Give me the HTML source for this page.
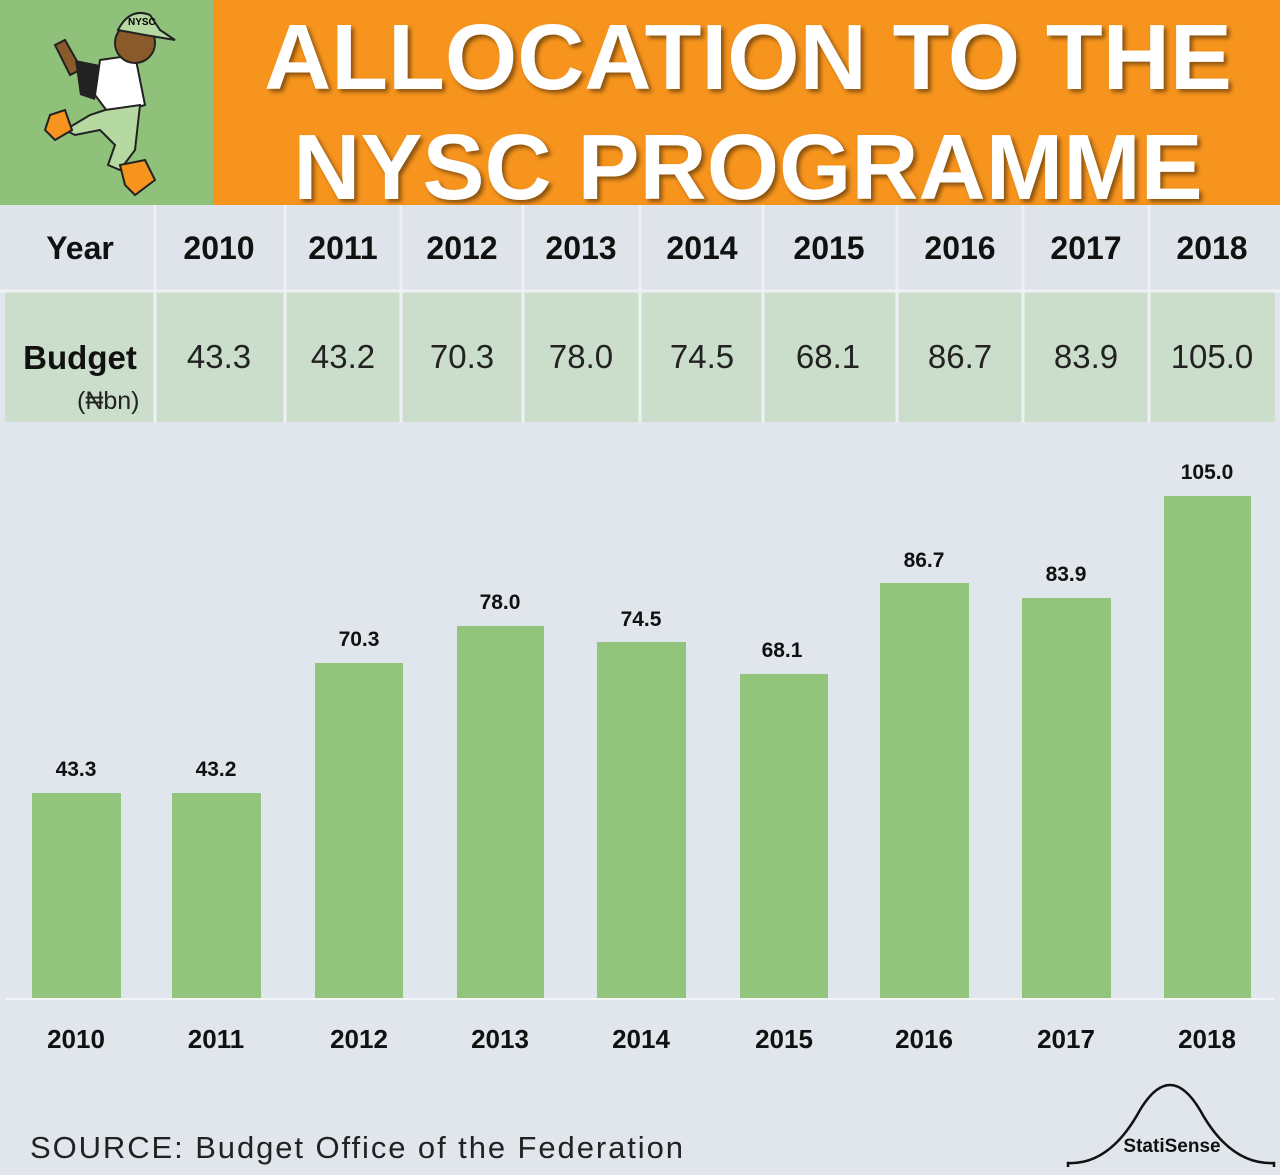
<!DOCTYPE html>
<html><head><style>
body{margin:0;width:1280px;height:1175px;background:#e1e5ec;position:relative;overflow:hidden;font-family:"Liberation Sans",Arial,sans-serif}
.a{position:absolute}
.c{position:absolute;text-align:center;transform:translateX(-50%)}
</style></head><body>
<div class="a" style="left:0;top:0;width:213px;height:205px;background:#8fc17a"></div>
<svg class="a" style="left:30px;top:5px" width="150" height="195" viewBox="0 0 150 195">
<path d="M60 60 L40 70 L25 40 L35 35 L48 58 Z" fill="#8a5a2b" stroke="#222" stroke-width="2"/>
<path d="M70 55 L105 50 L115 100 L80 110 L65 90 Z" fill="#fff" stroke="#222" stroke-width="2"/>
<path d="M45 55 L70 60 L65 95 L50 90 Z" fill="#222"/>
<path d="M75 105 L110 100 L105 145 L90 165 L78 160 L85 140 L70 125 L45 130 L35 125 L60 110 Z" fill="#b5d9a0" stroke="#222" stroke-width="2"/>
<path d="M20 110 L35 105 L42 125 L25 135 L15 125 Z" fill="#f7941d" stroke="#222" stroke-width="2"/>
<path d="M90 160 L115 155 L125 175 L105 190 L95 180 Z" fill="#f7941d" stroke="#222" stroke-width="2"/>
<circle cx="105" cy="38" r="20" fill="#8a5a2b" stroke="#222" stroke-width="2"/>
<path d="M88 25 Q100 2 120 10 L130 25 L145 35 L115 30 Z" fill="#b5d9a0" stroke="#222" stroke-width="2"/>
<text x="98" y="20" font-size="10" font-weight="bold" font-family="Liberation Sans">NYSC</text>
</svg>
<div class="a" style="left:213px;top:0;width:1067px;height:205px;background:#f7941d"></div>
<div class="c" style="left:748px;top:2px;color:#fff;font-weight:bold;font-size:93px;line-height:110px;white-space:nowrap;text-shadow:3px 3px 4px rgba(0,0,0,.45)">ALLOCATION TO THE<br>NYSC PROGRAMME</div>
<div class="a" style="left:0;top:205px;width:1280px;height:86px;background:#dfe4eb"></div>
<div class="a" style="left:5px;top:292px;width:1270px;height:130px;background:#cadecb"></div>
<svg class="a" style="left:0;top:205px" width="1280" height="218">
<g stroke="#eef1f4" stroke-width="3">
<line x1="155" y1="0" x2="155" y2="218"/><line x1="285" y1="0" x2="285" y2="218"/><line x1="401" y1="0" x2="401" y2="218"/><line x1="523" y1="0" x2="523" y2="218"/><line x1="640" y1="0" x2="640" y2="218"/><line x1="763" y1="0" x2="763" y2="218"/><line x1="897" y1="0" x2="897" y2="218"/><line x1="1023" y1="0" x2="1023" y2="218"/><line x1="1149" y1="0" x2="1149" y2="218"/>
<line x1="0" y1="86" x2="1280" y2="86"/></g></svg>
<div style="position:absolute;top:230px;left:0;width:1280px;font-weight:bold;font-size:32px;color:#111">
<div class="c" style="left:80px">Year</div><div class="c" style="left:219px">2010</div><div class="c" style="left:343px">2011</div><div class="c" style="left:462px">2012</div><div class="c" style="left:581px">2013</div><div class="c" style="left:702px">2014</div><div class="c" style="left:829px">2015</div><div class="c" style="left:960px">2016</div><div class="c" style="left:1086px">2017</div><div class="c" style="left:1212px">2018</div></div>
<div class="c" style="left:80px;top:339px;font-weight:bold;font-size:33px;color:#111">Budget</div>
<div class="a" style="left:77px;top:387px;font-size:25px;color:#222">(₦bn)</div>
<div style="position:absolute;top:338px;left:0;width:1280px;font-size:33px;color:#222">
<div class="c" style="left:219px">43.3</div><div class="c" style="left:343px">43.2</div><div class="c" style="left:462px">70.3</div><div class="c" style="left:581px">78.0</div><div class="c" style="left:702px">74.5</div><div class="c" style="left:828px">68.1</div><div class="c" style="left:960px">86.7</div><div class="c" style="left:1086px">83.9</div><div class="c" style="left:1212px">105.0</div></div>
<svg class="a" style="left:0;top:0" width="1280" height="1175" font-family="Liberation Sans" font-weight="bold" text-anchor="middle">
<g fill="#93c47d">
<rect x="32" y="793" width="89" height="205"/><rect x="172" y="793" width="89" height="205"/><rect x="315" y="663" width="88" height="335"/><rect x="457" y="626" width="87" height="372"/><rect x="597" y="642" width="89" height="356"/><rect x="740" y="674" width="88" height="324"/><rect x="880" y="583" width="89" height="415"/><rect x="1022" y="598" width="89" height="400"/><rect x="1164" y="496" width="87" height="502"/></g>
<line x1="5" y1="999" x2="1275" y2="999" stroke="#f3f5f7" stroke-width="2"/>
<g font-size="21" fill="#111">
<text x="76" y="776">43.3</text><text x="216" y="776">43.2</text><text x="359" y="646">70.3</text><text x="500" y="609">78.0</text><text x="641" y="626">74.5</text><text x="782" y="657">68.1</text><text x="924" y="567">86.7</text><text x="1066" y="581">83.9</text><text x="1207" y="479">105.0</text></g>
<g font-size="26" fill="#111">
<text x="76" y="1048">2010</text><text x="216" y="1048">2011</text><text x="359" y="1048">2012</text><text x="500" y="1048">2013</text><text x="641" y="1048">2014</text><text x="784" y="1048">2015</text><text x="924" y="1048">2016</text><text x="1066" y="1048">2017</text><text x="1207" y="1048">2018</text></g>
<text x="30" y="1158" text-anchor="start" font-weight="normal" font-size="31" fill="#222" textLength="653" lengthAdjust="spacing">SOURCE: Budget Office of the Federation</text>
<path d="M1068 1167 L1068 1163 Q1110 1165 1140 1110 Q1170 1060 1200 1110 Q1230 1165 1274 1163 L1274 1167" fill="none" stroke="#111" stroke-width="2.5"/>
<text x="1172" y="1152" font-size="19" fill="#111">StatiSense</text>
</svg>
</body></html>
